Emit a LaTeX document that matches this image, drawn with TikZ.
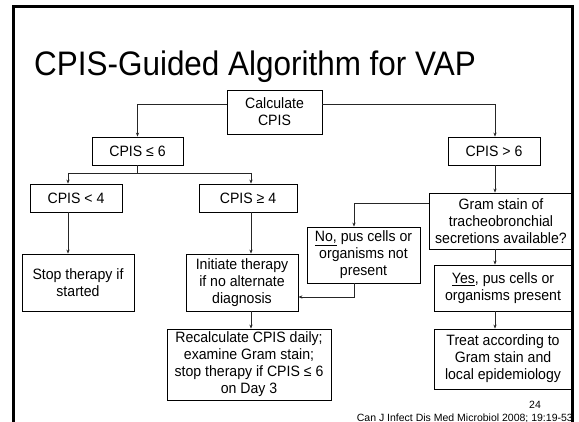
\documentclass[tikz,border=0pt]{standalone}
\usepackage{fontspec}
\setmainfont{Liberation Sans}
\newfontfamily\boxfont[FakeStretch=0.94]{Liberation Sans}
\newfontfamily\titlefont[FakeStretch=0.925]{Liberation Sans}
\usetikzlibrary{arrows.meta,calc}
\begin{document}
\begin{tikzpicture}[x=1pt,y=-1pt,
  box/.style={draw=black,line width=0.8pt,align=center,inner sep=0pt,
    font=\boxfont\fontsize{15}{17}\selectfont},
  conn/.style={draw=black!85,line width=0.7pt},
  arr/.style={conn,-{Stealth[length=4pt,width=3.2pt]}}]
\useasboundingbox (0,0) rectangle (579,422);
\fill[white] (0,0) rectangle (579,422);
% slide frame
\draw[line width=3.5pt] (13.5,430) -- (13.5,6.5) -- (572.5,6.5) -- (572.5,430);
% title
\node[anchor=base west,inner sep=0pt,font=\titlefont\fontsize{34}{40}\selectfont] (title) at (34,76) {CPIS-Guided Algorithm for VAP};
% boxes
\node[box,minimum width=95pt,minimum height=44pt] (calc) at (274.5,112) {Calculate\\CPIS};
\node[box,minimum width=91pt,minimum height=28pt] (le6) at (137.5,151) {CPIS ≤ 6};
\node[box,minimum width=92pt,minimum height=28pt] (gt6) at (494,151) {CPIS > 6};
\node[box,minimum width=92pt,minimum height=28pt] (lt4) at (76,198) {CPIS < 4};
\node[box,minimum width=98pt,minimum height=28pt] (ge4) at (248,198) {CPIS ≥ 4};
\node[box,minimum width=112pt,minimum height=57pt] (stop) at (78,282.5) {Stop therapy if\\started};
\node[box,minimum width=112pt,minimum height=57pt] (init) at (242,282.5) {Initiate therapy\\if no alternate\\diagnosis};
\node[box,minimum width=164pt,minimum height=71pt] (recalc) at (249,364.5) {Recalculate CPIS daily;\\examine Gram stain;\\stop therapy if CPIS ≤ 6\\on Day 3};
\node[box,minimum width=144pt,minimum height=56pt] (gram) at (501,221) {Gram stain of\\tracheobronchial\\secretions available?};
\node[box,minimum width=113pt,minimum height=56pt] (no) at (363.5,255) {\underline{No,} pus cells or\\organisms not\\present};
\node[box,minimum width=138pt,minimum height=46pt] (yes) at (503,288) {\underline{Yes}, pus cells or\\organisms present};
\node[box,minimum width=138pt,minimum height=60pt] (treat) at (503,359) {Treat according to\\Gram stain and\\local epidemiology};
% footer
\node[inner sep=0pt,font=\fontsize{10.5}{12}\selectfont] (page) at (535,405) {24};
\node[anchor=base east,inner sep=0pt,font=\fontsize{10.5}{12}\selectfont] (cite) at (573,421) {Can J Infect Dis Med Microbiol 2008; 19:19-53};
% connectors
\coordinate (ytop) at (0,104);
\coordinate (ysplit) at (0,173);
\coordinate (xl) at (68,0);
\coordinate (xm) at (251,0);
\coordinate (xr) at (495,0);
\coordinate (xno) at (354,0);
\coordinate (ygram) at (0,203);
\coordinate (yno) at (0,297);
\draw[arr] (calc.west |- ytop) -| (le6.north);
\draw[arr] (calc.east |- ytop) -| (xr |- gt6.north);
\draw[conn] (le6.south) -- (le6.south |- ysplit);
\draw[arr] (xl |- ysplit) -- (xl |- lt4.north);
\draw[arr] (xm |- ysplit) -- (xm |- ge4.north);
\draw[conn] (xl |- ysplit) -- (xm |- ysplit);
\draw[arr] (xl |- lt4.south) -- (xl |- stop.north);
\draw[arr] (xm |- ge4.south) -- (xm |- init.north);
\draw[arr] (xm |- init.south) -- (xm |- recalc.north);
\draw[arr] (xr |- gt6.south) -- (xr |- gram.north);
\draw[arr] (gram.west |- ygram) -| (xno |- no.north);
\draw[arr] (xno |- no.south) |- (init.east |- yno);
\draw[arr] (xr |- gram.south) -- (xr |- yes.north);
\draw[arr] (xr |- yes.south) -- (xr |- treat.north);
\end{tikzpicture}
\end{document}
